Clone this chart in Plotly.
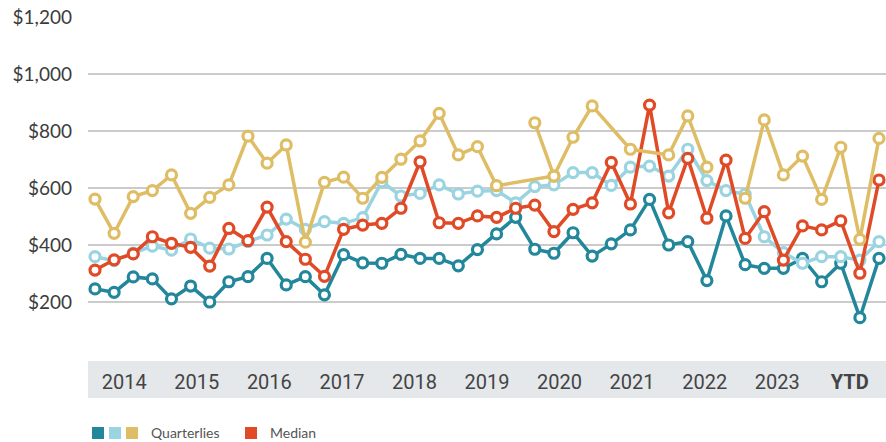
import plotly.graph_objects as go

# ---- data ----
year_labels = ["2014", "2015", "2016", "2017", "2018", "2019", "2020", "2021", "2022", "2023", "<b>YTD</b>"]
y_ticks = [200, 400, 600, 800, 1000, 1200]
y_tick_text = ["$200", "$400", "$600", "$800", "$1,000", "$1,200"]

lower_quartile = [246, 234, 288, 281, 211, 256, 200, 271, 289, 353,
                  260, 289, 225, 366, 337, 336, 367, 353, 353, 327,
                  384, 439, 497, 385, 371, 443, 361, 404, 453, 560,
                  400, 412, 275, 502, 331, 318, 318, 353, 271, 336,
                  145, 353]
mid_quartile = [359, 345, 372, 396, 382, 421, 389, 386, 412, 435,
                491, 455, 482, 476, 496, 622, 572, 581, 611, 579,
                589, 591, 548, 605, 611, 654, 654, 609, 673, 677,
                642, 736, 626, 591, 578, 429, 373, 336, 359, 359,
                347, 412]
median = [312, 348, 369, 429, 406, 392, 326, 458, 415, 533,
          412, 350, 290, 455, 470, 476, 529, 692, 478, 476,
          502, 497, 529, 540, 447, 525, 548, 690, 544, 891,
          513, 704, 494, 698, 423, 517, 347, 467, 453, 485,
          301, 628]
upper_quartile = [561, 441, 570, 591, 646, 511, 567, 611, 782, 687,
                  751, 410, 620, 638, 564, 637, 701, 765, 862, 716,
                  745, 608, None, 829, 642, 778, 888, None, 736, None,
                  716, 853, 673, None, 564, 839, 646, 712, 560, 743,
                  420, 774]
upper_spike_index = 23   # isolated upper value joined only to the next quarter
upper_break_after = 32   # upper line is not drawn across the following gap

TEAL = "#23879b"
LIGHT = "#9ad4e0"
GOLD = "#debd65"
RED = "#e04a26"

q = list(range(len(median)))

fig = go.Figure()


def add_series(xs, ys, color, connect=True):
    fig.add_trace(go.Scatter(
        x=xs, y=ys, mode="lines+markers", connectgaps=connect,
        line=dict(color=color, width=3.5),
        marker=dict(symbol="circle", size=10, color="white",
                    line=dict(color=color, width=3.2)),
        hoverinfo="skip", showlegend=False,
    ))


add_series(q, lower_quartile, TEAL)
add_series(q, mid_quartile, LIGHT)
add_series(q, median, RED)
upper_main = [None if i == upper_spike_index else v for i, v in enumerate(upper_quartile)]
add_series(q[:upper_break_after + 1], upper_main[:upper_break_after + 1], GOLD)
add_series(q[upper_break_after + 1:], upper_main[upper_break_after + 1:], GOLD)
add_series([upper_spike_index, upper_spike_index + 1],
           [upper_quartile[upper_spike_index], upper_quartile[upper_spike_index + 1]], GOLD)

# year-band axis (overlaying, categorical slots)
fig.add_trace(go.Scatter(x=[0, 10], y=[None, None], xaxis="x2", yaxis="y",
                         mode="markers", showlegend=False, hoverinfo="skip"))

W, H = 886, 442
ML, MR, MT, MB = 88, 0, 17, 40
PH = H - MT - MB


def py(pix):
    return (H - MB - pix) / PH


def px(pix):
    return (pix - ML) / (W - ML - MR)


shapes = [
    dict(type="rect", xref="paper", yref="paper", x0=0, x1=1, y0=py(398), y1=py(361),
         fillcolor="#e4e8eb", line=dict(width=0), layer="below"),
]
legend_squares = [(92, TEAL), (109, LIGHT), (126, GOLD), (245, RED)]
for x0, c in legend_squares:
    shapes.append(dict(type="rect", xref="paper", yref="paper",
                       x0=px(x0), x1=px(x0 + 12), y0=py(439), y1=py(427),
                       fillcolor=c, line=dict(width=0)))

annotations = [
    dict(text="Quarterlies", xref="paper", yref="paper", x=px(149), y=py(433),
         xanchor="left", yanchor="middle", showarrow=False,
         font=dict(family="Lato, Open Sans, sans-serif", size=14, color="#555555")),
    dict(text="Median", xref="paper", yref="paper", x=px(268), y=py(433),
         xanchor="left", yanchor="middle", showarrow=False,
         font=dict(family="Lato, Open Sans, sans-serif", size=14, color="#555555")),
]

fig.update_layout(
    width=W, height=H,
    margin=dict(l=ML, r=MR, t=MT, b=MB),
    paper_bgcolor="white", plot_bgcolor="white",
    showlegend=False,
    xaxis=dict(range=[-0.366, 41.366], showgrid=False, zeroline=False,
               showticklabels=False, ticks="", showline=False, fixedrange=True),
    xaxis2=dict(overlaying="x", anchor="free", position=py(368), side="bottom",
                range=[-0.5, 10.5], tickvals=list(range(len(year_labels))),
                ticktext=year_labels, showgrid=False, zeroline=False, showline=False,
                ticks="", tickfont=dict(family="Roboto, Liberation Sans, sans-serif",
                                        size=20, color="#444444")),
    yaxis=dict(domain=[py(344.75), 1], range=[50, 1200], tickvals=y_ticks,
               ticktext=y_tick_text, showgrid=True, gridcolor="#cbcbcb", gridwidth=1.5,
               zeroline=False, showline=False, ticks="", ticklabelstandoff=15,
               tickfont=dict(family="Lato, Open Sans, sans-serif", size=19, color="#3c3c3c")),
    shapes=shapes,
    annotations=annotations,
)

fig.write_html("out.html",
               config={"displayModeBar": False, "staticPlot": True},
               post_script="document.body.style.margin='0';document.body.style.overflow='hidden';")
